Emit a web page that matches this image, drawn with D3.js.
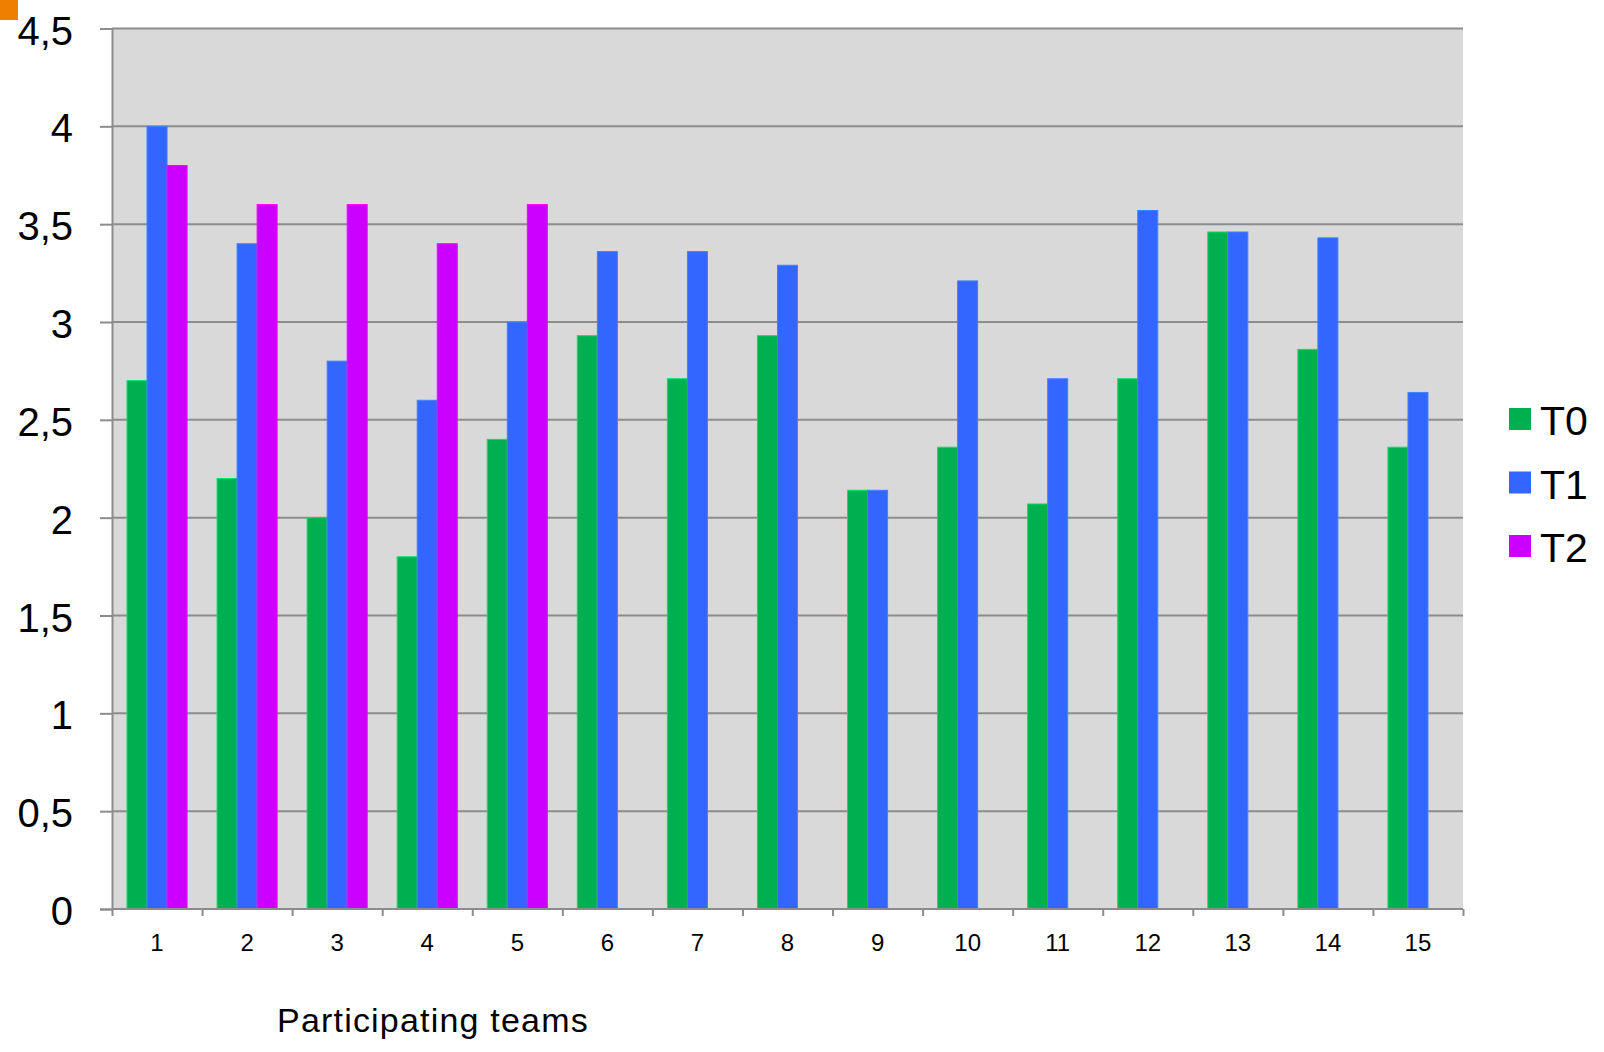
<!DOCTYPE html>
<html>
<head>
<meta charset="utf-8">
<script src="https://cdn.jsdelivr.net/npm/d3@7"></script>
<style>
  html, body { margin: 0; padding: 0; background: #ffffff; }
  svg { display: block; font-family: "Liberation Sans", Arial, sans-serif; }
</style>
</head>
<body>
<svg id="chart" width="1604" height="1052"></svg>
<script>
// Team numbers along the x axis
const teams = ["1","2","3","4","5","6","7","8","9","10","11","12","13","14","15"];
const seriesNames = ["T0", "T1", "T2"];
// Scores per team for each measurement time (T2 only for the first five teams)
const t0Values = [2.7, 2.2, 2.0, 1.8, 2.4, 2.93, 2.71, 2.93, 2.14, 2.36, 2.07, 2.71, 3.46, 2.86, 2.36];
const t1Values = [4.0, 3.4, 2.8, 2.6, 3.0, 3.36, 3.36, 3.29, 2.14, 3.21, 2.71, 3.57, 3.46, 3.43, 2.64];
const t2Values = [3.8, 3.6, 3.6, 3.4, 3.6, null, null, null, null, null, null, null, null, null, null];
const yTicks = [0, 0.5, 1, 1.5, 2, 2.5, 3, 3.5, 4, 4.5];
const xTitle = "Participating teams";

const colors = { T0: "#00b050", T1: "#3366ff", T2: "#cc00ff" };
const valuesBySeries = { T0: t0Values, T1: t1Values, T2: t2Values };

const svg = d3.select("#chart");
const plot = { left: 112, right: 1463, top: 28.5, bottom: 909 };

const x = d3.scaleBand().domain(teams).range([plot.left, plot.right]).paddingInner(0).paddingOuter(0);
const xSub = d3.scaleBand().domain(seriesNames).range([15, x.bandwidth() - 15]).padding(0);
const y = d3.scaleLinear().domain([0, 4.5]).range([plot.bottom, plot.top]);

// Orange corner marker
svg.append("rect").attr("x", 0).attr("y", 0).attr("width", 18).attr("height", 20).attr("fill", "#ee7f00");

// Plot background
svg.append("rect")
  .attr("x", plot.left).attr("y", plot.top)
  .attr("width", plot.right - plot.left).attr("height", plot.bottom - plot.top)
  .attr("fill", "#d9d9d9");

// Horizontal gridlines
svg.append("g").selectAll("line").data(yTicks).join("line")
  .attr("x1", plot.left).attr("x2", plot.right)
  .attr("y1", d => y(d)).attr("y2", d => y(d))
  .attr("stroke", "#8c8c8c").attr("stroke-width", 2);

// Bars
const rows = teams.map((t, i) => ({ team: t, values: seriesNames.map(s => ({ key: s, value: valuesBySeries[s][i] })) }));
const groups = svg.append("g").selectAll("g").data(rows).join("g")
  .attr("transform", d => `translate(${x(d.team)},0)`);
groups.selectAll("rect").data(d => d.values.filter(v => v.value != null)).join("rect")
  .attr("x", d => xSub(d.key))
  .attr("width", xSub.bandwidth())
  .attr("y", d => y(d.value))
  .attr("height", d => y(0) - y(d.value))
  .attr("fill", d => colors[d.key])
  .attr("stroke", d => d3.color(colors[d.key]).brighter(0.7))
  .attr("stroke-width", 1);

// Y axis
const yAxis = d3.axisLeft(y).tickValues(yTicks).tickSize(12).tickPadding(27)
  .tickFormat(d => String(d).replace(".", ","));
const gy = svg.append("g").attr("transform", `translate(${plot.left},0)`).call(yAxis);
gy.select(".domain").attr("stroke", "#8c8c8c").attr("stroke-width", 2);
gy.selectAll(".tick line").attr("stroke", "#8c8c8c").attr("stroke-width", 2);
gy.selectAll(".tick text").attr("font-size", 40).attr("fill", "#000").attr("dy", "0.39em")
  .attr("font-family", "'Liberation Sans', Arial, sans-serif");

// X axis: tick marks on category boundaries
const xEdges = d3.scaleLinear().domain([0, teams.length]).range([plot.left, plot.right]);
const gxTicks = svg.append("g").attr("transform", `translate(0,${plot.bottom})`)
  .call(d3.axisBottom(xEdges).ticks(teams.length).tickSize(7).tickFormat(""));
gxTicks.select(".domain").attr("stroke", "#8c8c8c").attr("stroke-width", 2).attr("d", `M${plot.left},0H${plot.right}`);
gxTicks.selectAll(".tick line").attr("stroke", "#8c8c8c").attr("stroke-width", 2);

// X axis: team labels centred in each band
const gx = svg.append("g").attr("transform", `translate(0,${plot.bottom})`)
  .call(d3.axisBottom(x).tickSize(0).tickPadding(24.5));
gx.select(".domain").remove();
gx.selectAll(".tick text").attr("font-size", 24).attr("fill", "#000")
  .attr("font-family", "'Liberation Sans', Arial, sans-serif");

// X axis title
svg.append("text")
  .attr("x", 277).attr("y", 1032)
  .attr("font-size", 34).attr("letter-spacing", 1.2).attr("fill", "#000")
  .text(xTitle);

// Legend
const legend = svg.append("g").selectAll("g").data(seriesNames).join("g")
  .attr("transform", (d, i) => `translate(1509,${408 + i * 63.5})`);
legend.append("rect").attr("width", 22).attr("height", 22).attr("fill", d => colors[d]);
legend.append("text").attr("x", 31).attr("y", 27).attr("font-size", 41).attr("fill", "#000").text(d => d);
</script>
</body>
</html>
